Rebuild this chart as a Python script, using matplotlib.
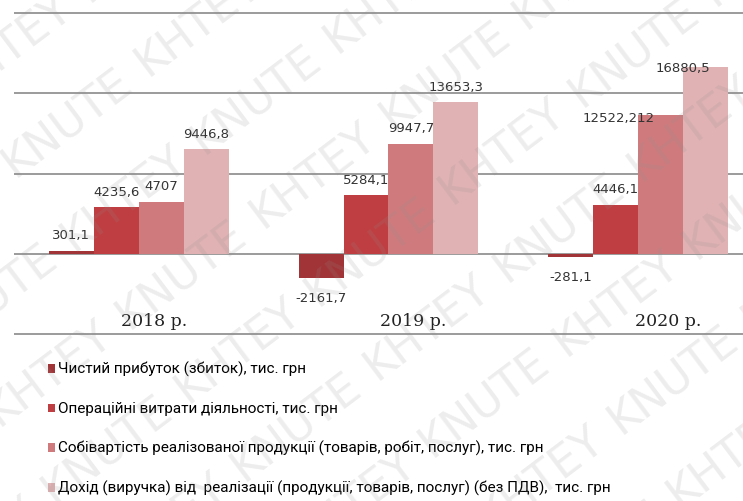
import numpy as np
import matplotlib.pyplot as plt

# Data
years = ['2018 р.', '2019 р.', '2020 р.']
series_names = [
    'Чистий прибуток (збиток), тис. грн',
    'Операційні витрати діяльності, тис. грн',
    'Собівартість реалізованої продукції (товарів, робіт, послуг), тис. грн',
    'Дохід (виручка) від  реалізації (продукції, товарів, послуг) (без ПДВ),  тис. грн',
]
net_profit = [301.1, -2161.7, -281.1]
op_costs = [4235.6, 5284.1, 4446.1]
cost_of_sales = [4707, 9947.7, 12522.212]
revenue = [9446.8, 13653.3, 16880.5]
labels_text = [
    ['301,1', '-2161,7', '-281,1'],
    ['4235,6', '5284,1', '4446,1'],
    ['4707', '9947,7', '12522,212'],
    ['9446,8', '13653,3', '16880,5'],
]

colors = ['#a13437', '#bf3e41', '#cf7b7d', '#e0b2b4']

W, H = 743, 501
fig = plt.figure(figsize=(W / 100, H / 100), dpi=100)
ax = fig.add_axes([14 / W, 1 - 340 / H, 1 - 14 / W, 340 / H])

x = np.arange(len(years))
width = 0.18
all_series = [net_profit, op_costs, cost_of_sales, revenue]
containers = []
for i, vals in enumerate(all_series):
    bars = ax.bar(x + (i - 1.5) * width, vals, width, color=colors[i],
                  label=series_names[i], zorder=3)
    containers.append(bars)

# value labels (a couple were nudged by hand in the original)
nudge = {(2, 2): (-30, -7), (3, 2): (-16, -6)}
for i, bars in enumerate(containers):
    for j, b in enumerate(bars):
        v = b.get_height()
        cx = b.get_x() + b.get_width() / 2
        dx, dy = nudge.get((i, j), (0, 6 if v >= 0 else -10))
        ax.annotate(labels_text[i][j], (cx, v), xytext=(dx, dy),
                    textcoords='offset points', ha='center',
                    va='bottom' if v >= 0 else 'top',
                    fontsize=9.5, color='#333333', zorder=5)

# category labels sit inside the plot area, just above the lowest gridline
year_shift = [0.06, 0.10, 0.12]
for j, yr in enumerate(years):
    ax.text(x[j] + year_shift[j], -6100, yr, ha='center', va='center',
            fontsize=12.5, family='DejaVu Serif', color='#222222')

ax.set_xlim(-0.5, 2.42)
ax.set_ylim(-7748, 22883)
ax.set_yticks([-7250, 0, 7250, 14500, 21750])
ax.yaxis.grid(True, color='#8a8a8a', linewidth=1.2, zorder=1)
ax.set_xticks([])
ax.tick_params(left=False, labelleft=False)
for s in ax.spines.values():
    s.set_visible(False)

fig.legend(handles=containers, labels=series_names, loc='upper left',
           bbox_to_anchor=(42 / W, 1 - 356 / H), frameon=False,
           handlelength=0.45, handleheight=0.45, handletextpad=0.2,
           labelspacing=1.62, borderaxespad=0,
           prop={'family': ['Roboto', 'DejaVu Sans'], 'size': 11})

# repeated diagonal watermark
ang = np.deg2rad(37)
along = np.array([np.cos(ang), np.sin(ang)])
perp = np.array([-np.sin(ang), np.cos(ang)])
for r in range(-8, 9):
    for c in range(-6, 8):
        p = np.array([370, 250]) + c * 165 * along + r * 95 * perp
        if -80 < p[0] < W + 80 and -60 < p[1] < H + 60:
            word = 'KNUTE' if (r + c) % 2 == 0 else 'KHTEY'
            fig.text(p[0] / W, p[1] / H, word, rotation=37, ha='center',
                     va='center', fontsize=32, color='#8f8f8f', alpha=0.16,
                     zorder=10)

fig.savefig('out.png', dpi=100)
